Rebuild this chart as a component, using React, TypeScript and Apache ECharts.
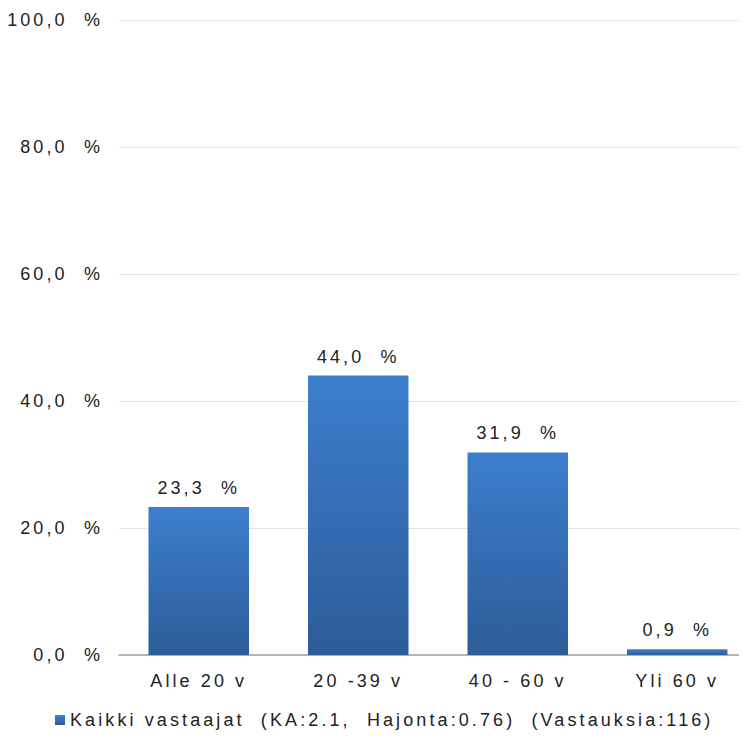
import React, { useEffect, useRef } from "react";
import * as echarts from "echarts";

const categories = ["Alle 20 v", "20 -39 v", "40 - 60 v", "Yli 60 v"];
const values = [23.3, 44.0, 31.9, 0.9];
const seriesName = "Kaikki vastaajat  (KA:2.1,  Hajonta:0.76)  (Vastauksia:116)";

const fmt = (v: number) => v.toFixed(1).replace(".", ",") + "  %";

export default function App() {
  const ref = useRef<HTMLDivElement>(null);
  useEffect(() => {
    if (!ref.current) return;
    const el = ref.current;
    const chart = echarts.init(el, undefined, { renderer: "svg" });
    const font = "Liberation Sans, Arial, sans-serif";
    const spacing = () => {
      el.querySelectorAll("text").forEach((t) => t.setAttribute("letter-spacing", "3.1"));
    };
    chart.on("finished", spacing);
    chart.setOption({
      animation: false,
      textStyle: { fontFamily: font },
      grid: { left: 119, right: 0, top: 20, bottom: 87, containLabel: false },
      legend: {
        top: 711,
        left: 55,
        padding: 0,
        itemWidth: 10,
        itemHeight: 10,
        icon: "rect",
        textStyle: { fontSize: 18, color: "#222", fontFamily: font },
        data: [seriesName],
      },
      xAxis: {
        type: "category",
        data: categories,
        axisLine: { show: true, lineStyle: { color: "#a0a0a0", width: 1.5 } },
        axisTick: { show: false },
        axisLabel: { fontSize: 18, color: "#222", margin: 17, fontFamily: font },
      },
      yAxis: {
        type: "value",
        min: 0,
        max: 100,
        interval: 20,
        axisLine: { show: false },
        axisTick: { show: false },
        splitLine: { lineStyle: { color: "#dae3ee", width: 1 } },
        axisLabel: {
          fontSize: 18,
          color: "#222",
          margin: 16,
          fontFamily: font,
          formatter: (v: number) => fmt(v),
        },
      },
      series: [
        {
          name: seriesName,
          type: "bar",
          data: values,
          barWidth: "63%",
          itemStyle: {
            color: new echarts.graphic.LinearGradient(0, 0, 0, 1, [
              { offset: 0, color: "#3c7ece" },
              { offset: 1, color: "#2d5c98" },
            ]),
          },
          label: {
            show: true,
            position: "top",
            distance: 10,
            fontSize: 18,
            color: "#222",
            fontFamily: font,
            formatter: (p: any) => fmt(p.value),
          },
        },
      ],
    });
    spacing();
    return () => chart.dispose();
  }, []);
  return (
    <div style={{ margin: "-8px 0 0 -8px", width: 747, height: 742, overflow: "hidden" }}>
      <div ref={ref} style={{ width: 757, height: 742 }} />
    </div>
  );
}
